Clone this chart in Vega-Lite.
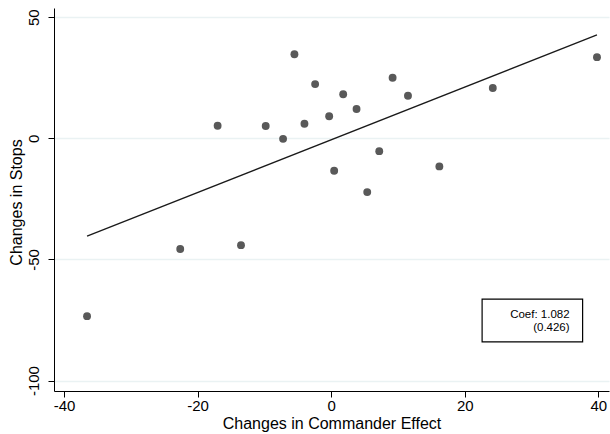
{
  "$schema": "https://vega.github.io/schema/vega-lite/v6.json",
  "width": 555,
  "height": 383,
  "autosize": {"type": "none"},
  "padding": {"left": 54, "top": 8, "right": 1, "bottom": 43},
  "background": "white",
  "config": {
    "view": {"stroke": null},
    "font": "Liberation Sans",
    "axis": {
      "domainColor": "#000000",
      "domainWidth": 1,
      "tickColor": "#000000",
      "tickWidth": 1,
      "tickSize": 6,
      "labelColor": "#000000",
      "titleColor": "#000000",
      "labelFontSize": 15,
      "titleFontSize": 16,
      "titleFontWeight": "normal",
      "labelFont": "Liberation Sans",
      "titleFont": "Liberation Sans",
      "labelExpr": "replace(datum.label, '\u2212', '-')"
    }
  },
  "datasets": {
    "points": [
      {"commander": -36.55, "stops": -73.4},
      {"commander": -22.6, "stops": -45.7},
      {"commander": -17.0, "stops": 5.2},
      {"commander": -13.5, "stops": -44.1},
      {"commander": -9.8, "stops": 5.1},
      {"commander": -7.2, "stops": -0.2},
      {"commander": -5.5, "stops": 34.7},
      {"commander": -4.0, "stops": 6.0},
      {"commander": -2.4, "stops": 22.4},
      {"commander": -0.3, "stops": 9.1},
      {"commander": 0.45, "stops": -13.4},
      {"commander": 1.8, "stops": 18.2},
      {"commander": 3.8, "stops": 12.1},
      {"commander": 5.4, "stops": -22.2},
      {"commander": 7.2, "stops": -5.3},
      {"commander": 9.2, "stops": 25.0},
      {"commander": 11.5, "stops": 17.6},
      {"commander": 16.2, "stops": -11.6},
      {"commander": 24.2, "stops": 20.8},
      {"commander": 39.8, "stops": 33.5}
    ],
    "fit": [
      {"commander": -36.55, "stops": -40.4},
      {"commander": 39.8, "stops": 42.7}
    ],
    "box": [
      {"x1": 22.6, "x2": 37.65, "y1": -66.4, "y2": -84.0}
    ],
    "label": [
      {"x": 35.7, "y": -74.3, "text": ["Coef: 1.082", "(0.426)"]}
    ]
  },
  "layer": [
    {
      "data": {"name": "points"},
      "mark": {"type": "circle", "color": "#595959", "size": 62, "opacity": 1},
      "encoding": {
        "x": {
          "field": "commander", "type": "quantitative",
          "scale": {"domain": [-41.5, 41.6], "nice": false, "zero": false},
          "axis": {"values": [-40, -20, 0, 20, 40], "grid": false, "title": "Changes in Commander Effect", "labelBaseline": "alphabetic", "labelPadding": 13.5, "titleBaseline": "alphabetic", "titleY": 37.5}
        },
        "y": {
          "field": "stops", "type": "quantitative",
          "scale": {"domain": [-104.3, 53.8], "nice": false, "zero": false},
          "axis": {"values": [-100, -50, 0, 50], "grid": true, "gridColor": "#eaf2f3", "gridWidth": 1.3, "title": "Changes in Stops", "labelAngle": 270, "labelAlign": "center", "labelBaseline": "alphabetic", "labelPadding": 10, "titleBaseline": "alphabetic", "titleX": -32.5, "titleY": 194}
        }
      }
    },
    {
      "data": {"name": "fit"},
      "mark": {"type": "line", "color": "#1a1a1a", "strokeWidth": 1.3},
      "encoding": {
        "x": {"field": "commander", "type": "quantitative"},
        "y": {"field": "stops", "type": "quantitative"}
      }
    },
    {
      "data": {"name": "box"},
      "mark": {"type": "rect", "fill": "white", "stroke": "#000000", "strokeWidth": 1.2},
      "encoding": {
        "x": {"field": "x1", "type": "quantitative"},
        "x2": {"field": "x2"},
        "y": {"field": "y1", "type": "quantitative"},
        "y2": {"field": "y2"}
      }
    },
    {
      "data": {"name": "label"},
      "mark": {"type": "text", "align": "right", "baseline": "alphabetic", "fontSize": 11.5, "lineHeight": 13, "font": "Liberation Sans", "color": "#000000"},
      "encoding": {
        "x": {"field": "x", "type": "quantitative"},
        "y": {"field": "y", "type": "quantitative"},
        "text": {"field": "text"}
      }
    }
  ]
}
